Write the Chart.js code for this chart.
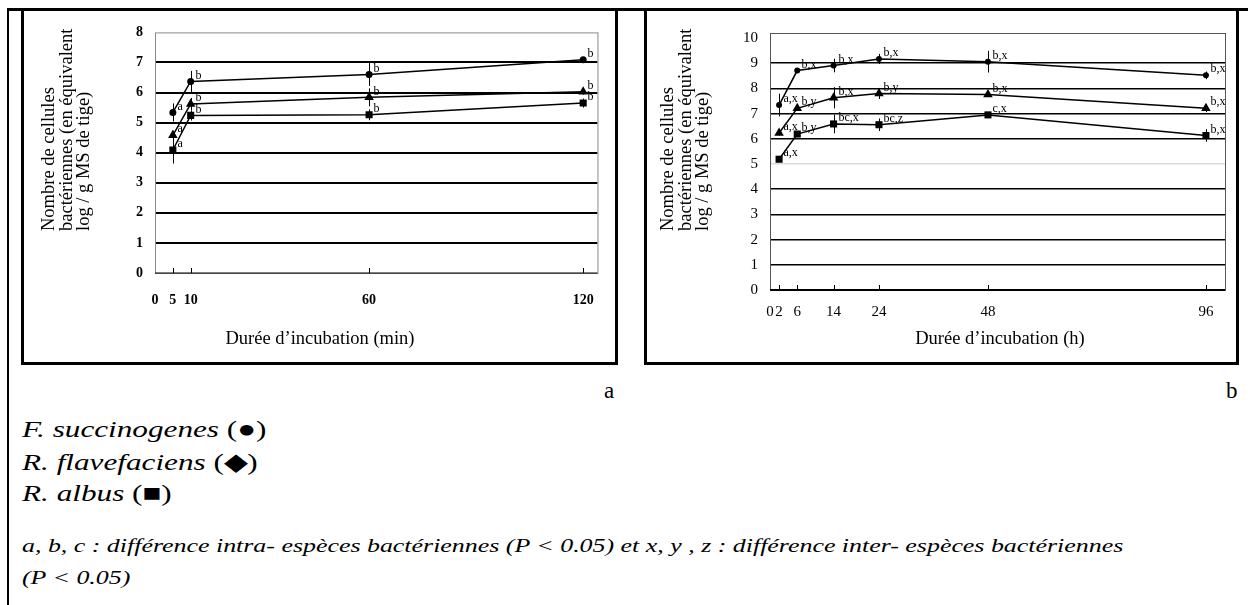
<!DOCTYPE html>
<html lang="fr">
<head>
<meta charset="utf-8">
<script src="https://cdn.jsdelivr.net/npm/chart.js@4.4.1/dist/chart.umd.min.js"></script>
<style>
  body { margin: 0; width: 1248px; height: 605px; background: #fff; position: relative; overflow: hidden;
         font-family: 'Liberation Serif', 'Times New Roman', serif; color: #000; }
  .rule { position: absolute; background: #000; }
  .box { position: absolute; border: 3px solid #000; box-sizing: border-box; }
  canvas { position: absolute; }
  .ytitle { position: absolute; transform-origin: left top; transform: rotate(-90deg);
            font-size: 18.5px; line-height: 17.5px; white-space: nowrap; text-align: left; }
  .xtitle { position: absolute; font-size: 18.5px; transform: translateX(-50%); white-space: nowrap; }
  .panel { position: absolute; font-size: 23px; }
  .leg { position: absolute; left: 22px; font-size: 24px; white-space: nowrap;
         transform-origin: left top; transform: scaleX(1.3); }
  .note { position: absolute; left: 22px; font-size: 18.5px; font-style: italic; white-space: nowrap;
          transform-origin: left top; transform: scaleX(1.4); }
</style>
</head>
<body>
<div class="rule" style="left:7px;top:8px;width:1241px;height:3px"></div>
<div class="rule" style="left:7px;top:8px;width:2px;height:597px"></div>
<div class="box" style="left:21px;top:8px;width:597px;height:357px"></div>
<div class="box" style="left:644px;top:8px;width:595px;height:357px"></div>

<canvas id="chartA" width="588" height="348" style="left:25px;top:12px"></canvas>
<canvas id="chartB" width="586" height="348" style="left:648px;top:12px"></canvas>

<div class="ytitle" style="left:40px;top:231px">Nombre de cellules<br>bactériennes (en équivalent<br>log / g MS de tige)</div>
<div class="ytitle" style="left:659px;top:231px">Nombre de cellules<br>bactériennes (en équivalent<br>log / g MS de tige)</div>
<div class="xtitle" style="left:320px;top:328px">Durée d’incubation (min)</div>
<div class="xtitle" style="left:1000px;top:328px">Durée d’incubation (h)</div>

<div class="panel" style="left:604px;top:378px">a</div>
<div class="panel" style="left:1226px;top:378px">b</div>
<div class="leg" style="top:416px"><i>F. succinogenes</i> (●)</div>
<div class="leg" style="top:448px"><i>R. flavefaciens</i> (◆)</div>
<div class="leg" style="top:480px"><i>R. albus</i> (■)</div>
<div class="note" style="top:536px">a, b, c : différence intra- espèces bactériennes (P &lt; 0.05) et x, y , z : différence inter- espèces bactériennes</div>
<div class="note" style="top:568px">(P &lt; 0.05)</div>

<script>
// panel a : minutes
let minutes = [5, 10, 60, 120];
let minuteTicks = [0, 5, 10, 60, 120];
let countTicksA = [0, 1, 2, 3, 4, 5, 6, 7, 8];
let fsMin = [5.34, 6.37, 6.60, 7.09];
let rfMin = [4.58, 5.62, 5.84, 6.03];
let raMin = [4.09, 5.24, 5.26, 5.65];
let fsMinErr = [0.3, 0.35, 0.38, 0.05];
let rfMinErr = [0.15, 0.2, 0.3, 0.1];
let raMinErr = [0.45, 0.17, 0.18, 0.15];
let fsMinLab = ['a', 'b', 'b', 'b'];
let rfMinLab = ['a', 'b', 'b', 'b'];
let raMinLab = ['a', 'b', 'b', 'b'];

// panel b : hours
let hours = [2, 6, 14, 24, 48, 96];
let hourTicks = [0, 2, 6, 14, 24, 48, 96];
let countTicksB = [0, 1, 2, 3, 4, 5, 6, 7, 8, 9, 10];
let fsHour = [7.34, 8.71, 8.91, 9.17, 9.06, 8.52];
let rfHour = [6.23, 7.21, 7.63, 7.80, 7.76, 7.21];
let raHour = [5.19, 6.19, 6.59, 6.56, 6.95, 6.13];
let fsHourErr = [0.45, 0, 0.27, 0.2, 0.43, 0.15];
let rfHourErr = [0.1, 0.1, 0.42, 0.22, 0.1, 0.15];
let raHourErr = [0.05, 0.05, 0.37, 0.25, 0.05, 0.25];
let fsHourLab = ['a,x', 'b,x', 'b,x', 'b,x', 'b,x', 'b,x'];
let rfHourLab = ['a,x', 'b,y', 'b,x', 'b,y', 'b,x', 'b,x'];
let raHourLab = ['a,x', 'b,y', 'bc,x', 'bc,z', 'c,x', 'b,x'];

function toPoints(xs, ys) {
  return xs.map((x, i) => ({ x: x, y: ys[i] }));
}

function series(name, xs, ys, errs, labs, style, radius) {
  return {
    label: name,
    data: toPoints(xs, ys),
    errs: errs,
    labs: labs,
    borderColor: '#000',
    backgroundColor: '#000',
    borderWidth: 1.5,
    pointStyle: style,
    pointRadius: radius,
    pointBorderWidth: 0,
    tension: 0
  };
}

// error bars, letters, frame and small inner ticks
const extras = {
  id: 'extras',
  afterDatasetsDraw(chart, args, o) {
    const ctx = chart.ctx;
    const xs = chart.scales.x, ys = chart.scales.y;
    const a = chart.chartArea;
    ctx.save();
    ctx.strokeStyle = o.frameColor;
    ctx.lineWidth = 1;
    ctx.strokeRect(a.left + 0.5, a.top + 0.5, a.right - a.left, a.bottom - a.top);
    ctx.strokeStyle = '#000';
    ctx.lineWidth = o.axisWidth;
    ctx.beginPath();
    ctx.moveTo(a.left, a.bottom);
    ctx.lineTo(a.right, a.bottom);
    ctx.stroke();
    ctx.lineWidth = 1;
    xs.ticks.forEach(t => {
      if (t.value === 0) return;
      const px = Math.round(xs.getPixelForValue(t.value)) + 0.5;
      ctx.beginPath();
      ctx.moveTo(px, a.bottom);
      ctx.lineTo(px, a.bottom - 5);
      ctx.stroke();
    });
    ctx.font = o.labelFont;
    ctx.fillStyle = '#000';
    ctx.textBaseline = 'middle';
    ctx.textAlign = 'left';
    chart.data.datasets.forEach(ds => {
      ds.data.forEach((p, i) => {
        const px = Math.round(xs.getPixelForValue(p.x)) + 0.5;
        const e = ds.errs[i];
        if (e > 0) {
          ctx.beginPath();
          ctx.moveTo(px, ys.getPixelForValue(p.y + e));
          ctx.lineTo(px, ys.getPixelForValue(p.y - e));
          ctx.stroke();
        }
        ctx.fillText(ds.labs[i], px + o.dx, ys.getPixelForValue(p.y) + o.dy);
      });
    });
    ctx.restore();
  }
};

function makeChart(id, datasets, xTicks, xMax, yTicks, yMax, look) {
  return new Chart(document.getElementById(id), {
    type: 'line',
    data: { datasets: datasets },
    plugins: [extras],
    options: {
      responsive: false,
      animation: false,
      devicePixelRatio: 1,
      layout: { padding: { left: 0, right: look.padRight, top: look.padTop, bottom: 0 } },
      plugins: {
        legend: { display: false },
        tooltip: { enabled: false },
        extras: {
          frameColor: look.frameColor,
          axisWidth: look.axisWidth,
          labelFont: look.labelFont,
          dx: 4,
          dy: -6
        }
      },
      scales: {
        x: {
          type: 'linear',
          min: 0,
          max: xMax,
          afterBuildTicks: s => { s.ticks = xTicks.map(v => ({ value: v })); },
          afterFit: s => { s.height = look.xHeight; },
          grid: { display: false, drawTicks: false },
          border: { display: false },
          ticks: {
            autoSkip: false,
            maxRotation: 0,
            padding: look.xPad,
            color: '#000',
            font: { family: 'Liberation Serif', size: look.tickSize, weight: look.tickWeight }
          }
        },
        y: {
          min: 0,
          max: yMax,
          afterBuildTicks: s => { s.ticks = yTicks.map(v => ({ value: v })); },
          afterFit: s => { s.width = look.yWidth; },
          grid: {
            drawTicks: false,
            color: c => (c.tick.value === 0 || c.tick.value >= look.gridTop) ? 'rgba(0,0,0,0)' :
              (look.paleGrid.includes(c.tick.value) ? '#dcdcdc' : '#000'),
            lineWidth: look.gridWidth
          },
          border: { display: false },
          ticks: {
            padding: 12,
            color: '#000',
            font: { family: 'Liberation Serif', size: look.tickSize, weight: look.tickWeight }
          }
        }
      }
    }
  });
}

makeChart('chartA', [
  series('F. succinogenes', minutes, fsMin, fsMinErr, fsMinLab, 'circle', 3.5),
  series('R. flavefaciens', minutes, rfMin, rfMinErr, rfMinLab, 'triangle', 5.5),
  series('R. albus', minutes, raMin, raMinErr, raMinLab, 'rect', 5)
], minuteTicks, 124, countTicksA, 8, {
  padRight: 10, padTop: 17, xHeight: 87, yWidth: 130, xPad: 19, gridTop: 8,
  tickSize: 14, tickWeight: 'bold', gridWidth: 2, paleGrid: [],
  frameColor: '#8a8a8a', axisWidth: 1, labelFont: '12px Liberation Serif'
});

makeChart('chartB', [
  series('F. succinogenes', hours, fsHour, fsHourErr, fsHourLab, 'circle', 3),
  series('R. flavefaciens', hours, rfHour, rfHourErr, rfHourLab, 'triangle', 5.5),
  series('R. albus', hours, raHour, raHourErr, raHourLab, 'rect', 5)
], hourTicks, 100.2, countTicksB, 10.2, {
  padRight: 9, padTop: 19, xHeight: 70, yWidth: 122, xPad: 13, gridTop: 10,
  tickSize: 15, tickWeight: 'normal', gridWidth: 1.5, paleGrid: [5],
  frameColor: '#555', axisWidth: 2, labelFont: '12px Liberation Serif'
});
</script>
</body>
</html>
